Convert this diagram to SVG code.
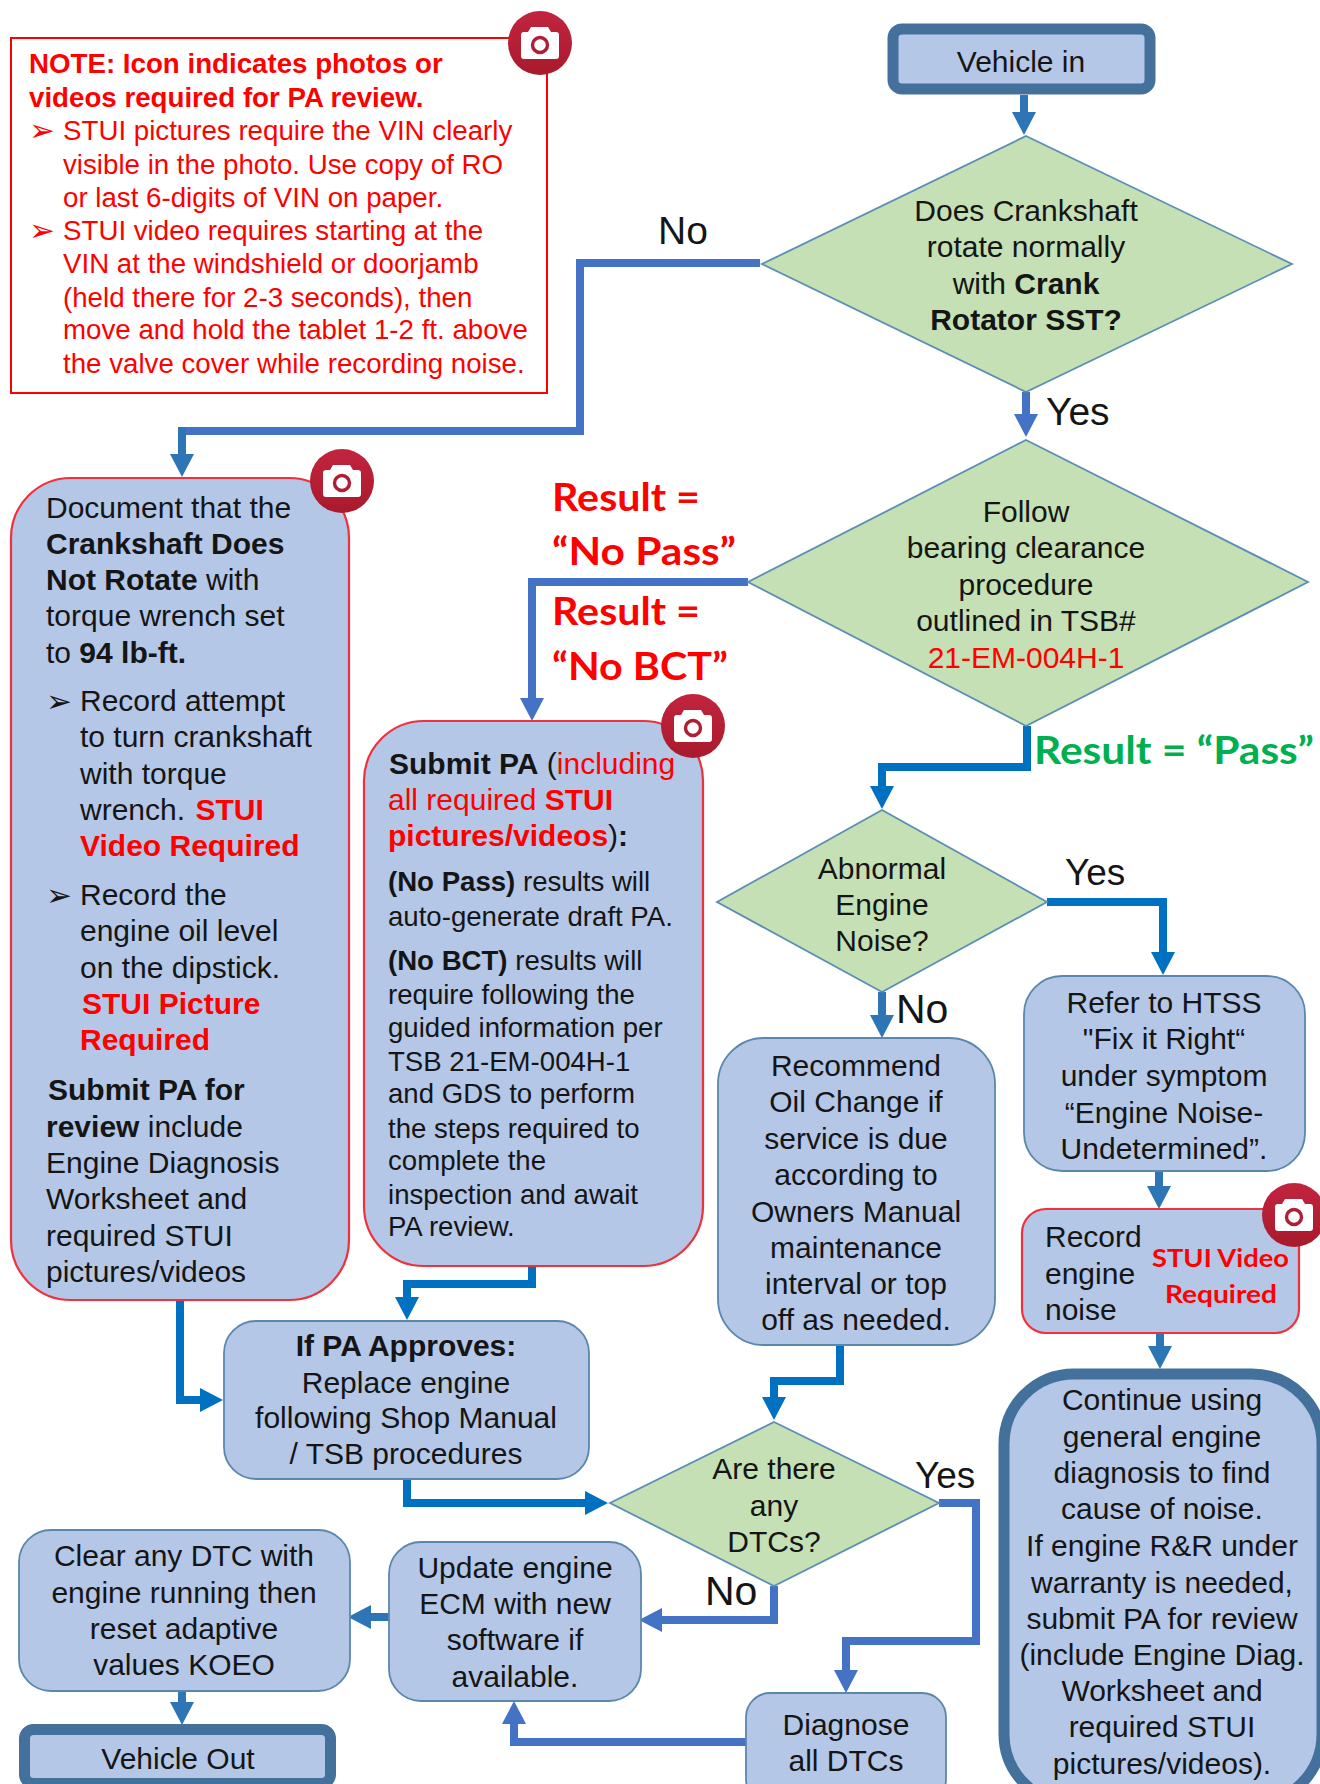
<svg xmlns="http://www.w3.org/2000/svg" xmlns:xlink="http://www.w3.org/1999/xlink" width="1320" height="1784" viewBox="0 0 1320 1784">
<style>
text{font-family:"Liberation Sans",Arial,sans-serif;font-size:30px;fill:#151515}
.m{text-anchor:middle}
.b{font-weight:700}
.r{fill:#f00}
.s{font-size:27.6px}
.n{font-size:27.7px;fill:#f00}
.lab{font-size:39px}
.lab2{font-size:37px}
.lab3{font-size:41px}
.cal{font-family:Lato,"Liberation Sans",sans-serif;font-weight:700}
.res{font-size:39px;fill:#f00}
.pass{font-size:39px;fill:#00b050}
.stui{font-size:25px;fill:#f00}
.bul{font-family:"DejaVu Sans",sans-serif;font-size:31px}
.box{fill:#b4c7e7;stroke:#5b87ad;stroke-width:1.8}
.red{fill:#b4c7e7;stroke:#f0303c;stroke-width:2.2}
.term{fill:#b4c7e7;stroke:#44719c;stroke-width:11}
.dia{fill:#c5e0b4;stroke:#5b8db5;stroke-width:1.8}
.c{fill:none;stroke-width:8;stroke-linejoin:miter}
.c1{stroke:#2e75b6}.c2{stroke:#4472c4}.c3{stroke:#0070c0}
</style>
<defs>
<marker id="a1" markerUnits="userSpaceOnUse" markerWidth="24" markerHeight="28" refX="0" refY="14" orient="auto"><path d="M0 2L23 14L0 26z" fill="#2e75b6"/></marker>
<marker id="a2" markerUnits="userSpaceOnUse" markerWidth="24" markerHeight="28" refX="0" refY="14" orient="auto"><path d="M0 2L23 14L0 26z" fill="#4472c4"/></marker>
<marker id="a3" markerUnits="userSpaceOnUse" markerWidth="24" markerHeight="28" refX="0" refY="14" orient="auto"><path d="M0 2L23 14L0 26z" fill="#0070c0"/></marker>
<linearGradient id="camg" x1="0" y1="0" x2="0" y2="1"><stop offset="0" stop-color="#c2243f"/><stop offset="1" stop-color="#a81a2c"/></linearGradient>
<g id="cam">
<circle r="32" fill="url(#camg)"/>
<path d="M-19-11H-12L-9-16H8L11-11H16Q19-11 19-8V13Q19 16 16 16H-16Q-19 16-19 13V-8Q-19-11-16-11z" fill="#fff"/>
<circle cy="2" r="7.500" fill="#fff" stroke="#ae1e34" stroke-width="3.4"/>
</g>
</defs>
<rect width="1320" height="1784" fill="#fff"/>

<g id="connectors">
<path class="c c2" d="M760 263H580V431H178"/>
<path class="c c1" d="M182 427V454" marker-end="url(#a1)"/>
<path class="c c1" d="M1024 95V112" marker-end="url(#a1)"/>
<path class="c c2" d="M1026 392V414" marker-end="url(#a2)"/>
<path class="c c2" d="M748 582H532V698" marker-end="url(#a2)"/>
<path class="c c3" d="M1027 726V767H882V786" marker-end="url(#a3)"/>
<path class="c c3" d="M1047 902H1163V952" marker-end="url(#a3)"/>
<path class="c c1" d="M882 992V1015" marker-end="url(#a1)"/>
<path class="c c1" d="M1159 1171V1186" marker-end="url(#a1)"/>
<path class="c c1" d="M1160 1333V1346" marker-end="url(#a1)"/>
<path class="c c3" d="M840 1345V1381H774V1397" marker-end="url(#a3)"/>
<path class="c c2" d="M939 1503H976V1641H846V1670" marker-end="url(#a2)"/>
<path class="c c2" d="M774 1586V1620H662" marker-end="url(#a2)"/>
<path class="c c1" d="M389 1617H371" marker-end="url(#a1)"/>
<path class="c c1" d="M182 1691V1702" marker-end="url(#a1)"/>
<path class="c c2" d="M746 1742H514V1724" marker-end="url(#a2)"/>
<path class="c c3" d="M180 1300V1400H200" marker-end="url(#a3)"/>
<path class="c c3" d="M532 1266V1284H407V1297" marker-end="url(#a3)"/>
<path class="c c3" d="M407 1479V1503H585" marker-end="url(#a3)"/>
</g>

<g id="note">
<rect x="11" y="38" width="536" height="355" fill="#fff" stroke="#f00" stroke-width="2"/>
<text class="b n" x="29" y="73">NOTE: Icon indicates photos or</text>
<text class="b n" x="29" y="107">videos required for PA review.</text>
<text class="bul r" x="29" y="141">➢</text>
<text class="n" x="63" y="140">STUI pictures require the VIN clearly</text>
<text class="n" x="63" y="174">visible in the photo. Use copy of RO</text>
<text class="n" x="63" y="207">or last 6-digits of VIN on paper.</text>
<text class="bul r" x="29" y="241">➢</text>
<text class="n" x="63" y="240">STUI video requires starting at the</text>
<text class="n" x="63" y="273">VIN at the windshield or doorjamb</text>
<text class="n" x="63" y="307">(held there for 2-3 seconds), then</text>
<text class="n" x="63" y="339">move and hold the tablet 1-2 ft. above</text>
<text class="n" x="63" y="373">the valve cover while recording noise.</text>
<use href="#cam" x="540" y="43"/>
</g>

<g id="labels">
<text class="lab" x="658" y="244">No</text>
<text class="lab" x="1046" y="425">Yes</text>
<text class="cal res" x="552" y="511" textLength="148" lengthAdjust="spacingAndGlyphs">Result =</text>
<text class="cal res" x="552" y="565" textLength="184" lengthAdjust="spacingAndGlyphs">“No Pass”</text>
<text class="cal res" x="552" y="625" textLength="148" lengthAdjust="spacingAndGlyphs">Result =</text>
<text class="cal res" x="552" y="680" textLength="176" lengthAdjust="spacingAndGlyphs">“No BCT”</text>
<text class="cal pass" x="1034" y="764" textLength="280" lengthAdjust="spacingAndGlyphs">Result = “Pass”</text>
<text class="lab2" x="1065" y="885">Yes</text>
<text class="lab3" x="896" y="1023">No</text>
<text class="lab2" x="915" y="1488">Yes</text>
<text class="lab3" x="705" y="1605">No</text>
</g>

<g id="vehicle-in">
<rect class="term" x="893" y="29" width="257" height="60" rx="9"/>
<text class="m" x="1021" y="72">Vehicle in</text>
</g>

<g id="d-crankshaft">
<polygon class="dia" points="1026,136 1292,264 1026,392 762,264"/>
<text class="m" x="1026" y="221">Does Crankshaft</text>
<text class="m" x="1026" y="257">rotate normally</text>
<text class="m" x="1026" y="294">with <tspan class="b">Crank</tspan></text>
<text class="m b" x="1026" y="330">Rotator SST?</text>
</g>

<g id="d-bearing">
<polygon class="dia" points="1026,440 1308,582 1026,726 748,582"/>
<text class="m" x="1026" y="522">Follow</text>
<text class="m" x="1026" y="558">bearing clearance</text>
<text class="m" x="1026" y="595">procedure</text>
<text class="m" x="1026" y="631">outlined in TSB#</text>
<text class="m r" x="1026" y="668">21-EM-004H-1</text>
</g>

<g id="document">
<rect class="red" x="11" y="478" width="338" height="822" rx="60"/>
<text x="46" y="518">Document that the</text>
<text class="b" x="46" y="554">Crankshaft Does</text>
<text x="46" y="590"><tspan class="b">Not Rotate</tspan> with</text>
<text x="46" y="626">torque wrench set</text>
<text x="46" y="663">to <tspan class="b">94 lb-ft.</tspan></text>
<text class="bul" x="46" y="712">➢</text>
<text x="80" y="711">Record attempt</text>
<text x="80" y="747">to turn crankshaft</text>
<text x="80" y="784">with torque</text>
<text x="80" y="820">wrench. <tspan class="b r" dx="2">STUI</tspan></text>
<text class="b r" x="80" y="856">Video Required</text>
<text class="bul" x="46" y="906">➢</text>
<text x="80" y="905">Record the</text>
<text x="80" y="941">engine oil level</text>
<text x="80" y="978">on the dipstick.</text>
<text class="b r" x="82" y="1014">STUI Picture</text>
<text class="b r" x="80" y="1050">Required</text>
<text class="b" x="48" y="1100">Submit PA for</text>
<text x="46" y="1137"><tspan class="b">review</tspan> include</text>
<text x="46" y="1173">Engine Diagnosis</text>
<text x="46" y="1209">Worksheet and</text>
<text x="46" y="1246">required STUI</text>
<text x="46" y="1282">pictures/videos</text>
<use href="#cam" x="342" y="481"/>
</g>

<g id="submit-pa">
<rect class="red" x="364" y="721" width="339" height="545" rx="60"/>
<text x="389" y="774"><tspan class="b">Submit PA</tspan> (<tspan class="r">including</tspan></text>
<text class="r" x="388" y="810">all required <tspan class="b r">STUI</tspan></text>
<text x="388" y="846"><tspan class="b r">pictures/videos</tspan><tspan>)</tspan><tspan class="b">:</tspan></text>
<text class="s" x="388" y="891"><tspan class="b">(No Pass)</tspan> results will</text>
<text class="s" x="388" y="926">auto-generate draft PA.</text>
<text class="s" x="388" y="970"><tspan class="b">(No BCT)</tspan> results will</text>
<text class="s" x="388" y="1004">require following the</text>
<text class="s" x="388" y="1037">guided information per</text>
<text class="s" x="388" y="1071">TSB 21-EM-004H-1</text>
<text class="s" x="388" y="1103">and GDS to perform</text>
<text class="s" x="388" y="1138">the steps required to</text>
<text class="s" x="388" y="1170">complete the</text>
<text class="s" x="388" y="1204">inspection and await</text>
<text class="s" x="388" y="1236">PA review.</text>
<use href="#cam" x="693" y="726"/>
</g>

<g id="d-noise">
<polygon class="dia" points="882,810 1047,902 882,992 717,902"/>
<text class="m" x="882" y="879">Abnormal</text>
<text class="m" x="882" y="915">Engine</text>
<text class="m" x="882" y="951">Noise?</text>
</g>

<g id="recommend">
<rect class="box" x="718" y="1038" width="277" height="307" rx="46"/>
<text class="m" x="856" y="1076">Recommend</text>
<text class="m" x="856" y="1112">Oil Change if</text>
<text class="m" x="856" y="1149">service is due</text>
<text class="m" x="856" y="1185">according to</text>
<text class="m" x="856" y="1222">Owners Manual</text>
<text class="m" x="856" y="1258">maintenance</text>
<text class="m" x="856" y="1294">interval or top</text>
<text class="m" x="856" y="1330">off as needed.</text>
</g>

<g id="refer">
<rect class="box" x="1024" y="976" width="281" height="195" rx="38"/>
<text class="m" x="1164" y="1013">Refer to HTSS</text>
<text class="m" x="1164" y="1049">"Fix it Right“</text>
<text class="m" x="1164" y="1086">under symptom</text>
<text class="m" x="1164" y="1123">“Engine Noise-</text>
<text class="m" x="1164" y="1159">Undetermined”.</text>
</g>

<g id="record">
<rect class="red" x="1022" y="1209" width="277" height="124" rx="24"/>
<text x="1045" y="1247">Record</text>
<text x="1045" y="1284">engine</text>
<text x="1045" y="1320">noise</text>
<text class="cal stui" x="1152" y="1267" textLength="137" lengthAdjust="spacingAndGlyphs">STUI Video</text>
<text class="cal stui" x="1165" y="1303" textLength="112" lengthAdjust="spacingAndGlyphs">Required</text>
<use href="#cam" x="1294" y="1215"/>
</g>

<g id="continue">
<rect class="term" x="1004" y="1374" width="318" height="430" rx="70"/>
<text class="m" x="1162" y="1410">Continue using</text>
<text class="m" x="1162" y="1447">general engine</text>
<text class="m" x="1162" y="1483">diagnosis to find</text>
<text class="m" x="1162" y="1519">cause of noise.</text>
<text class="m" x="1162" y="1556">If engine R&amp;R under</text>
<text class="m" x="1162" y="1593">warranty is needed,</text>
<text class="m" x="1162" y="1629">submit PA for review</text>
<text class="m" x="1162" y="1665">(include Engine Diag.</text>
<text class="m" x="1162" y="1701">Worksheet and</text>
<text class="m" x="1162" y="1737">required STUI</text>
<text class="m" x="1162" y="1774">pictures/videos).</text>
</g>

<g id="if-pa">
<rect class="box" x="224" y="1321" width="365" height="158" rx="32"/>
<text class="m b" x="406" y="1356">If PA Approves:</text>
<text class="m" x="406" y="1393">Replace engine</text>
<text class="m" x="406" y="1428">following Shop Manual</text>
<text class="m" x="406" y="1464">/ TSB procedures</text>
</g>

<g id="d-dtcs">
<polygon class="dia" points="774,1422 939,1503 774,1586 610,1503"/>
<text class="m" x="774" y="1479">Are there</text>
<text class="m" x="774" y="1516">any</text>
<text class="m" x="774" y="1552">DTCs?</text>
</g>

<g id="update">
<rect class="box" x="389" y="1542" width="252" height="159" rx="32"/>
<text class="m" x="515" y="1578">Update engine</text>
<text class="m" x="515" y="1614">ECM with new</text>
<text class="m" x="515" y="1650">software if</text>
<text class="m" x="515" y="1687">available.</text>
</g>

<g id="clear">
<rect class="box" x="19" y="1530" width="331" height="161" rx="32"/>
<text class="m" x="184" y="1566">Clear any DTC with</text>
<text class="m" x="184" y="1603">engine running then</text>
<text class="m" x="184" y="1639">reset adaptive</text>
<text class="m" x="184" y="1675">values KOEO</text>
</g>

<g id="diagnose">
<rect class="box" x="746" y="1693" width="200" height="110" rx="24"/>
<text class="m" x="846" y="1735">Diagnose</text>
<text class="m" x="846" y="1771">all DTCs</text>
</g>

<g id="vehicle-out">
<rect class="term" x="24.500" y="1729.500" width="306" height="54" rx="9"/>
<text class="m" x="178" y="1769">Vehicle Out</text>
</g>
</svg>
